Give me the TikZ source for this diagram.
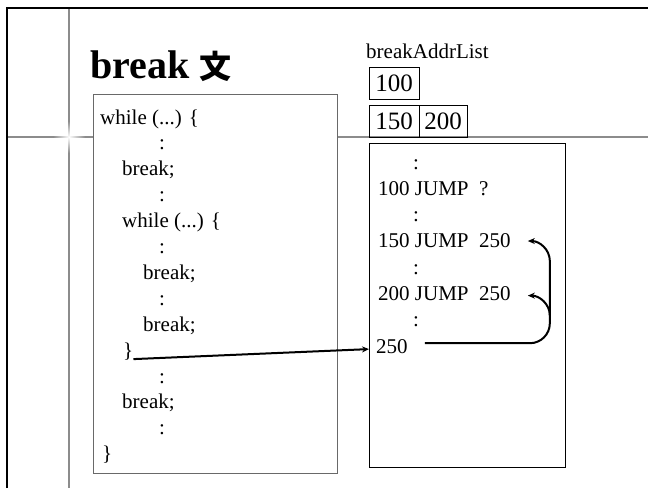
\documentclass[tikz,border=0pt]{standalone}
\usepackage{fontspec}
\setmainfont{Liberation Serif}
\newfontfamily\cjk{Noto Sans CJK JP}
\usepackage{tikz}
\usetikzlibrary{arrows.meta,positioning,fadings}
\definecolor{frameGray}{RGB}{140,140,140}
\definecolor{boxGray}{RGB}{105,105,105}
\tikzfading[name=glowfade, inner color=transparent!0, outer color=transparent!100]
\tikzset{
  codeline/.style={anchor=base west, inner sep=0pt, font=\fontsize{21}{25}\selectfont},
  addrcell/.style={draw, line width=0.8pt, minimum width=50pt, minimum height=32pt,
    inner sep=0pt, outer sep=0pt, font=\fontsize{25}{30}\selectfont},
  jumparrow/.style={line width=2pt, -{Stealth[length=7pt,width=6pt]}}
}

\begin{document}
\begin{tikzpicture}[x=1pt,y=1pt]
\useasboundingbox (0,0) rectangle (648,-488);
\draw[frameGray, line width=1.3pt] (69,-8) -- (69,-488);
\draw[frameGray, line width=1.3pt] (7,-137) -- (648,-137);
\fill[white, path fading=glowfade] (69,-137) circle (16);
\draw[line width=2.6pt] (7,-488) -- (7,-8) -- (648,-8);

\draw[boxGray, fill=white, line width=0.9pt] (93,-94) rectangle (337,-473);
\draw[fill=white, line width=0.9pt] (369,-143) rectangle (565,-467);

\node[anchor=base west, inner sep=0pt, font=\fontsize{40}{48}\selectfont\bfseries] (title)
  at (90,-78) {break {\cjk\fontsize{32}{38}\selectfont 文}};

\node[codeline] (listname) at (366,-58) {breakAddrList};
\node[addrcell, anchor=north west] (a100) at (369,-67) {100};
\node[addrcell, anchor=north west] (a150) at (369,-105) {150};
\node[addrcell, right=0pt of a150, minimum width=48pt] (a200) {200};

\foreach \x/\t [count=\i] in {100/{while (...) \{}, 159/:, 122/break;, 159/:,
  122/{while (...) \{}, 159/:, 143/break;, 159/:, 143/break;, 123/\}, 159/:,
  122/break;, 159/:, 102/\}}
{
\node[codeline] (c\i) at (\x,{-124-25.9*(\i-1)}) {\t};
}

\foreach \x/\t/\n [count=\i] in {413/:/r1, 378/{100 JUMP\ \ ?}/l100, 413/:/r3,
  378/{150 JUMP\ \ 250}/l150, 413/:/r5, 378/{200 JUMP\ \ 250}/l200, 413/:/r7,
  376/250/l250}
{
\node[codeline] (\n) at (\x,{-169-26.3*(\i-1)}) {\t};
}

\draw[jumparrow] ([yshift=-2pt]c10.base east) -- ([xshift=-7pt,yshift=4pt]l250.base west);

\coordinate (rail) at ([xshift=39pt]l200.east);
\coordinate (exit) at ([xshift=17pt,yshift=3pt]l250.east);
\draw[jumparrow] (exit) -- ([xshift=-20pt]rail |- exit) to[out=0,in=-90] ([yshift=20pt]rail |- exit)
  -- ([yshift=-20pt]rail |- l150.east) to[out=90,in=0] ([xshift=17pt]l150.east);
\draw[jumparrow] ([yshift=-22pt]rail) to[out=90,in=0] ([xshift=17pt,yshift=-2pt]l200.east);
\end{tikzpicture}
\end{document}
